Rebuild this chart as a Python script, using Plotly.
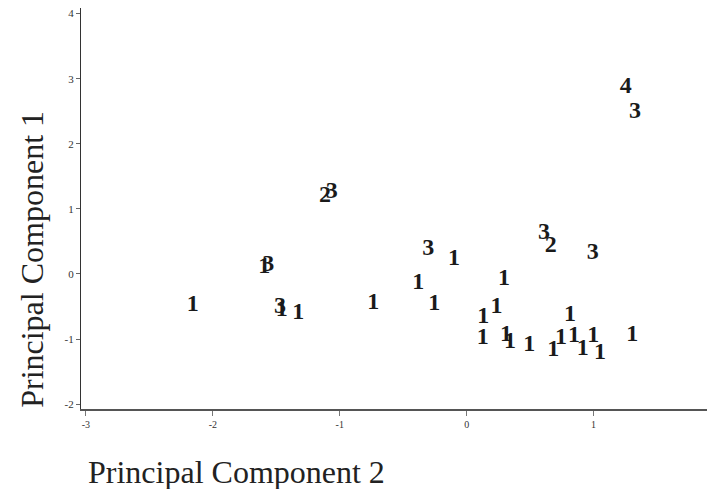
import plotly.graph_objects as go

# Data (PC2 on x, PC1 on y, group label as marker)
pc2 = [1.253, 1.326, -1.117, -1.064, -1.595, -1.563, -2.159, -1.471, -1.458, -1.327,
       -0.736, -0.303, -0.100, -0.381, 0.294, -0.255, 0.236, 0.131, 0.814, 0.609,
       0.662, 0.993, 0.126, 0.310, 0.341, 0.493, 0.682, 0.743, 0.846, 0.914,
       0.998, 1.050, 1.305]
pc1 = [2.873, 2.488, 1.198, 1.264, 0.112, 0.138, -0.476, -0.502, -0.553, -0.604,
       -0.450, 0.379, 0.225, -0.143, -0.082, -0.461, -0.512, -0.655, -0.630, 0.634,
       0.430, 0.327, -0.988, -0.937, -1.040, -1.091, -1.167, -0.988, -0.952, -1.157,
       -0.952, -1.219, -0.937]
groups = ["4", "3", "2", "3", "1", "3", "1", "3", "1", "1",
          "1", "3", "1", "1", "1", "1", "1", "1", "1", "3",
          "2", "3", "1", "1", "1", "1", "1", "1", "1", "1",
          "1", "1", "1"]

x_ticks = [-3, -2, -1, 0, 1]
y_ticks = [-2, -1, 0, 1, 2, 3, 4]

fig = go.Figure()
fig.add_trace(go.Scatter(
    x=pc2, y=pc1, text=groups, mode="text",
    textposition="middle center",
    textfont=dict(family="Liberation Serif", size=24, color="#1a1a1a", weight="bold"),
    showlegend=False, hoverinfo="skip",
))

# The page body has an 8px margin, so the figure is sized to fit inside it.
fig.update_layout(
    width=699, height=481,
    margin=dict(l=73, r=0, t=0, b=80),
    paper_bgcolor="white", plot_bgcolor="white",
    font=dict(family="Liberation Serif", color="#333"),
    xaxis=dict(range=[-3.039, 1.894], tickvals=x_ticks, ticktext=[str(v) for v in x_ticks],
               showgrid=False, zeroline=False, showline=True, linecolor="#555", linewidth=1.5,
               ticks="outside", ticklen=5, tickcolor="#777", tickwidth=1,
               ticklabeloverflow="allow",
               tickfont=dict(family="Liberation Serif", size=10, color="#333")),
    yaxis=dict(range=[-2.074, 4.086], tickvals=y_ticks, ticktext=[str(v) for v in y_ticks],
               showgrid=False, zeroline=False, showline=True, linecolor="#333", linewidth=1.2,
               ticks="outside", ticklen=4, tickcolor="#666", tickwidth=1,
               ticklabeloverflow="allow",
               tickfont=dict(family="Liberation Serif", size=11, color="#333")),
    annotations=[
        dict(text="Principal Component 1", xref="paper", yref="paper", x=0, y=0.372,
             xanchor="center", yanchor="middle", xshift=-49, textangle=-90, showarrow=False,
             font=dict(family="Liberation Serif", size=32, color="#222")),
        dict(text="Principal Component 2", xref="paper", yref="paper", x=0, y=0,
             xanchor="left", yanchor="middle", xshift=5, yshift=-63, showarrow=False,
             font=dict(family="Liberation Serif", size=32, color="#222")),
    ],
)

fig.write_html("out.html")
